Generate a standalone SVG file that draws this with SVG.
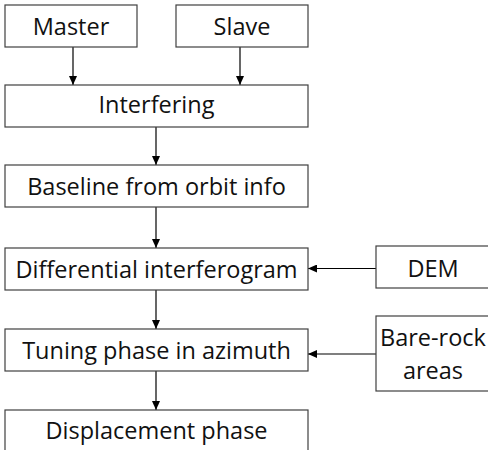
<svg xmlns="http://www.w3.org/2000/svg" width="488" height="450" viewBox="0 0 488 450">
<style>
.box{fill:#fff;stroke:#404040;stroke-width:1.2}
.t{font-family:"Open Sans",sans-serif;font-size:23.5px;fill:#111;text-anchor:middle}
.c{stroke:#000;stroke-width:1.2;fill:none;marker-end:url(#ah)}
</style>
<defs>
<marker id="ah" markerWidth="10" markerHeight="8" refX="9" refY="4" orient="auto" markerUnits="userSpaceOnUse">
<path d="M0,0 L9,4 L0,8 Z" fill="#000"/>
</marker>
</defs>
<rect width="488" height="450" fill="#fff"/>
<g id="connectors">
<line class="c" x1="73" y1="47" x2="73" y2="85"/>
<line class="c" x1="240" y1="47" x2="240" y2="85"/>
<line class="c" x1="156" y1="127" x2="156" y2="165"/>
<line class="c" x1="156" y1="207" x2="156" y2="248"/>
<line class="c" x1="156" y1="290" x2="156" y2="329"/>
<line class="c" x1="156" y1="371" x2="156" y2="410"/>
<line class="c" x1="376" y1="268.5" x2="308" y2="268.5"/>
<line class="c" x1="376" y1="354" x2="308" y2="354"/>
</g>
<g id="master"><rect class="box" x="5" y="5" width="132" height="42"/><text class="t" x="71" y="35">Master</text></g>
<g id="slave"><rect class="box" x="176" y="5" width="132" height="42"/><text class="t" x="242" y="35">Slave</text></g>
<g id="interfering"><rect class="box" x="5" y="85" width="303" height="42"/><text class="t" x="156.5" y="113">Interfering</text></g>
<g id="baseline"><rect class="box" x="5" y="165" width="303" height="42"/><text class="t" x="156.5" y="195">Baseline from orbit info</text></g>
<g id="differential"><rect class="box" x="5" y="248" width="303" height="42"/><text class="t" x="156.5" y="278">Differential interferogram</text></g>
<g id="dem"><rect class="box" x="376" y="246" width="114" height="42"/><text class="t" x="433" y="276.5">DEM</text></g>
<g id="tuning"><rect class="box" x="5" y="329" width="303" height="42"/><text class="t" x="156.5" y="359">Tuning phase in azimuth</text></g>
<g id="barerock"><rect class="box" x="376" y="316" width="114" height="75"/><text class="t" x="433" y="346">Bare-rock</text><text class="t" x="433" y="379">areas</text></g>
<g id="displacement"><rect class="box" x="5" y="410" width="303" height="42"/><text class="t" x="156.5" y="439">Displacement phase</text></g>
</svg>
